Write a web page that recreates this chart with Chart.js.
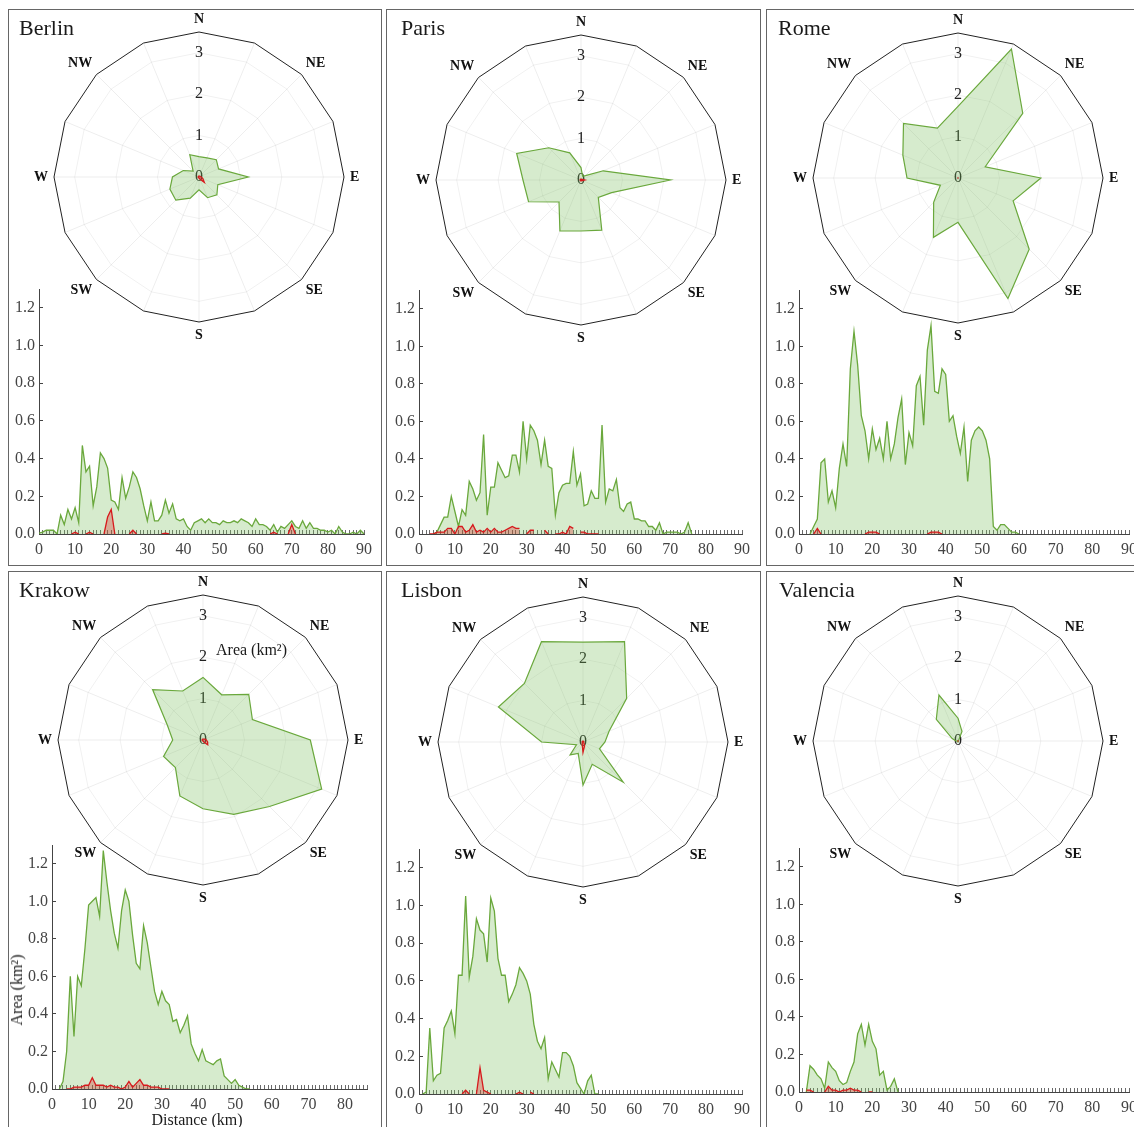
<!DOCTYPE html>
<html>
<head>
<meta charset="utf-8">
<script src="https://cdn.jsdelivr.net/npm/chart.js@4.4.1/dist/chart.umd.min.js"></script>
<style>
  body { margin: 0; width: 1134px; height: 1127px; overflow: hidden; background: #fff; position: relative;
         font-family: "Liberation Serif", "Times New Roman", serif; }
  .panel { position: absolute; border: 1px solid #666; box-sizing: border-box; }
  canvas { position: absolute; }
  .txt { position: absolute; color: #1a1a1a; white-space: nowrap; }
</style>
</head>
<body>
<script>
const cities = ['Berlin', 'Paris', 'Rome', 'Krakow', 'Lisbon', 'Valencia'];
const compass = ['N', '', 'NE', '', 'E', '', 'SE', '', 'S', '', 'SW', '', 'W', '', 'NW', ''];
const roseTicks = [0, 1, 2, 3, 3.5];
const areaTicks = [0, 0.2, 0.4, 0.6, 0.8, 1.0, 1.2];
const distanceTicks = [0, 10, 20, 30, 40, 50, 60, 70, 80, 90];

// area (km2) per direction, clockwise from N in 16 steps
const berlinRoseGreen   = [0.49, 0.5, 0.59, 0.51, 1.19, 0.49, 0.61, 0.54, 0.31, 0.55, 0.79, 0.76, 0.64, 0.41, 0.2, 0.58];
const berlinRoseRed     = [0.02, 0.02, 0.03, 0.03, 0.05, 0.1, 0.18, 0.05, 0.02, 0.02, 0.02, 0.02, 0.02, 0.02, 0.02, 0.02];
const parisRoseGreen    = [0.3, 0.1, 0.15, 0.58, 2.16, 0.8, 0.59, 1.31, 1.23, 1.33, 0.75, 1.37, 1.4, 1.68, 1.1, 0.71];
const parisRoseRed      = [0.02, 0.02, 0.02, 0.03, 0.08, 0.03, 0.02, 0.02, 0.02, 0.02, 0.02, 0.02, 0.02, 0.02, 0.02, 0.02];
const romeRoseGreen     = [1.73, 3.37, 2.21, 0.71, 2.0, 1.44, 2.43, 3.15, 1.07, 1.55, 0.83, 0.46, 1.23, 1.44, 1.86, 1.3];
const romeRoseRed       = [0, 0, 0, 0, 0, 0, 0, 0, 0, 0, 0, 0, 0, 0, 0, 0];
const krakowRoseGreen   = [1.51, 1.18, 1.56, 1.29, 2.59, 3.1, 2.27, 1.94, 1.66, 1.46, 0.94, 1.03, 0.73, 0.93, 1.72, 1.28];
const krakowRoseRed     = [0.02, 0.02, 0.03, 0.05, 0.08, 0.12, 0.16, 0.05, 0.02, 0.02, 0.02, 0.02, 0.02, 0.02, 0.02, 0.02];
const lisbonRoseGreen   = [2.41, 2.62, 1.49, 0.68, 0.53, 0.43, 1.37, 0.58, 1.04, 0.3, 0.44, 0.17, 1.0, 2.21, 2.0, 2.62];
const lisbonRoseRed     = [0.02, 0.02, 0.02, 0.02, 0.02, 0.02, 0.03, 0.1, 0.25, 0.05, 0.02, 0.02, 0.02, 0.02, 0.02, 0.02];
const valenciaRoseGreen = [0.55, 0.25, 0.02, 0.01, 0.01, 0.01, 0.01, 0.01, 0.02, 0.01, 0.01, 0.01, 0.05, 0.15, 0.74, 1.2];
const valenciaRoseRed   = [0, 0, 0, 0, 0, 0, 0, 0, 0, 0, 0, 0, 0, 0, 0, 0];

// area (km2) per 1 km distance band, index = km
const berlinGreen = [
  0.005, 0.01, 0.02, 0.02, 0.02, 0.0, 0.1, 0.05, 0.13, 0.08,
  0.14, 0.06, 0.47, 0.33, 0.36, 0.15, 0.25, 0.43, 0.4, 0.35,
  0.18, 0.17, 0.13, 0.3, 0.19, 0.25, 0.33, 0.3, 0.24, 0.15,
  0.07, 0.17, 0.07, 0.07, 0.1, 0.18, 0.11, 0.16, 0.08, 0.07,
  0.08, 0.04, 0.02, 0.06, 0.07, 0.08, 0.06, 0.08, 0.06, 0.06,
  0.05, 0.07, 0.06, 0.06, 0.07, 0.06, 0.08, 0.07, 0.06, 0.04,
  0.08, 0.05, 0.05, 0.04, 0.02, 0.05, 0.01, 0.04, 0.03, 0.05,
  0.07, 0.04, 0.03, 0.07, 0.03, 0.06, 0.03, 0.03, 0.02, 0.02,
  0.01, 0.02, 0.0, 0.04, 0.01, 0.0, 0.0, 0.01, 0.0, 0.02,
  0.0
];
const berlinRed = [
  null, null, null, null, null, null, null, null, null, 0,
  0.01, 0, null, 0, 0.01, 0, null, null, 0, 0.09,
  0.13, 0, null, null, null, 0, 0.02, 0, null, null,
  null, null, null, null, 0, 0.005, 0, null, null, null,
  null, null, null, null, null, null, null, null, null, null,
  null, null, null, null, null, null, null, null, null, null,
  null, null, null, null, 0, 0.01, 0, null, null, 0,
  0.05, 0
];
const parisGreen = [
  null, null, null, null, 0.0, 0.01, 0.05, 0.09, 0.09, 0.2,
  0.12, 0.04, 0.13, 0.1, 0.28, 0.24, 0.18, 0.22, 0.53, 0.1,
  0.25, 0.25, 0.38, 0.34, 0.3, 0.31, 0.42, 0.42, 0.33, 0.6,
  0.4, 0.58, 0.55, 0.5, 0.37, 0.5, 0.36, 0.35, 0.1, 0.22,
  0.26, 0.27, 0.27, 0.44, 0.26, 0.32, 0.15, 0.16, 0.23, 0.19,
  0.19, 0.58, 0.17, 0.24, 0.23, 0.29, 0.14, 0.12, 0.16, 0.17,
  0.08, 0.08, 0.07, 0.07, 0.04, 0.04, 0.02, 0.06, 0.0, 0.01,
  0.01, 0.01, 0.01, 0.0, 0.01, 0.06, 0.0
];
const parisRed = [
  null, null, null, 0, 0, 0.01, 0.01, 0.01, 0.03, 0.03,
  0, 0.04, 0.04, 0.01, 0.02, 0.05, 0.01, 0.02, 0.01, 0.03,
  0.01, 0.03, 0.01, 0.01, 0.02, 0.03, 0.04, 0.03, 0.03, null,
  0, 0.02, 0.02, null, null, 0.02, 0, null, 0, 0,
  0.01, 0, 0.04, 0.03, null, 0.01, 0.01, 0, 0, 0,
  0
];
const romeGreen = [
  null, null, null, 0.0, 0.04, 0.08, 0.38, 0.4, 0.17, 0.23,
  0.14, 0.35, 0.48, 0.36, 0.88, 1.08, 0.9, 0.63, 0.55, 0.4,
  0.56, 0.45, 0.51, 0.4, 0.6, 0.4, 0.48, 0.62, 0.72, 0.37,
  0.54, 0.47, 0.79, 0.84, 0.58, 0.98, 1.11, 0.76, 0.75, 0.88,
  0.85, 0.6, 0.63, 0.52, 0.43, 0.57, 0.28, 0.5, 0.55, 0.57,
  0.55, 0.5, 0.4, 0.04, 0.02, 0.05, 0.05, 0.03, 0.01, 0.01,
  0.0
];
const romeRed = [
  null, null, null, null, 0, 0.03, 0, null, null, null,
  null, null, null, null, null, null, null, null, 0, 0.01,
  0.01, 0.01, 0, null, null, null, null, null, null, null,
  null, null, null, null, null, 0, 0.01, 0.01, 0.01, 0
];
const krakowGreen = [
  null, null, 0.0, 0.04, 0.2, 0.6, 0.28, 0.6, 0.55, 0.75,
  0.98, 1.0, 1.02, 0.92, 1.27, 1.1, 0.95, 0.83, 0.75, 0.95,
  1.06, 1.0, 0.82, 0.67, 0.64, 0.87, 0.78, 0.65, 0.52, 0.45,
  0.52, 0.47, 0.45, 0.36, 0.37, 0.3, 0.34, 0.39, 0.24, 0.19,
  0.15, 0.21, 0.15, 0.14, 0.13, 0.15, 0.16, 0.07, 0.05, 0.03,
  0.05, 0.02, 0.01, 0.0, 0.0
];
const krakowRed = [
  null, null, null, null, 0, 0, 0.01, 0.01, 0.01, 0.02,
  0.02, 0.06, 0.02, 0.02, 0.02, 0.01, 0.02, 0.01, 0.01, 0,
  0.01, 0.04, 0.01, 0.03, 0.05, 0.02, 0.02, 0.01, 0.01, 0.01,
  0, 0, 0
];
const lisbonGreen = [
  null, 0.0, 0.01, 0.35, 0.07, 0.1, 0.11, 0.35, 0.39, 0.44,
  0.32, 0.63, 0.63, 1.05, 0.62, 0.73, 0.93, 0.87, 0.85, 0.7,
  1.04, 0.97, 0.72, 0.63, 0.63, 0.49, 0.53, 0.58, 0.67, 0.64,
  0.6, 0.53, 0.37, 0.28, 0.24, 0.3, 0.08, 0.17, 0.13, 0.09,
  0.22, 0.22, 0.2, 0.15, 0.06, 0.03, 0.0, 0.07, 0.1, 0.0,
  0.0
];
const lisbonRed = [
  null, null, null, null, null, null, null, null, null, null,
  null, null, 0, 0.02, 0, null, 0, 0.14, 0.02, 0.01,
  0, null, null, null, null, null, null, 0, 0.01, 0,
  null, 0.01, 0
];
const valenciaGreen = [
  null, null, 0.0, 0.14, 0.12, 0.09, 0.07, 0.02, 0.16, 0.13,
  0.11, 0.06, 0.04, 0.05, 0.11, 0.16, 0.31, 0.36, 0.25, 0.36,
  0.27, 0.23, 0.09, 0.11, 0.01, 0.03, 0.07, 0.0
];
const valenciaRed = [
  null, null, 0.01, 0.01, 0, null, null, 0, 0.03, 0.01,
  0.01, 0, 0.01, 0.01, 0.02, 0.01, 0.01, 0, null, 0,
  0
];

const roseGreen = {Berlin: berlinRoseGreen, Paris: parisRoseGreen, Rome: romeRoseGreen,
                   Krakow: krakowRoseGreen, Lisbon: lisbonRoseGreen, Valencia: valenciaRoseGreen};
const roseRed = {Berlin: berlinRoseRed, Paris: parisRoseRed, Rome: romeRoseRed,
                 Krakow: krakowRoseRed, Lisbon: lisbonRoseRed, Valencia: valenciaRoseRed};
const profileGreen = {Berlin: berlinGreen, Paris: parisGreen, Rome: romeGreen,
                      Krakow: krakowGreen, Lisbon: lisbonGreen, Valencia: valenciaGreen};
const profileRed = {Berlin: berlinRed, Paris: parisRed, Rome: romeRed,
                    Krakow: krakowRed, Lisbon: lisbonRed, Valencia: valenciaRed};

// page layout (pixels)
const layout = {
  Berlin:   {panel: [8, 9, 374, 557],     title: [19, 17],   line: [9, 10, 373, 555],    x0: 39,  xEnd: 372,  yTop: 289, yZero: 534,  xMax: 90, rose: [199, 177]},
  Paris:    {panel: [386, 9, 375, 557],   title: [401, 17],  line: [387, 10, 373, 555],  x0: 419, xEnd: 752,  yTop: 290, yZero: 534,  xMax: 90, rose: [581, 180]},
  Rome:     {panel: [766, 9, 400, 557],   title: [778, 17],  line: [767, 10, 380, 555],  x0: 799, xEnd: 1132, yTop: 290, yZero: 534,  xMax: 90, rose: [958, 178]},
  Krakow:   {panel: [8, 571, 374, 600],   title: [19, 579],  line: [9, 572, 373, 555],   x0: 52,  xEnd: 367,  yTop: 845, yZero: 1089, xMax: 86, rose: [203, 740]},
  Lisbon:   {panel: [386, 571, 375, 600], title: [401, 579], line: [387, 572, 373, 555], x0: 419, xEnd: 752,  yTop: 849, yZero: 1094, xMax: 90, rose: [583, 742]},
  Valencia: {panel: [766, 571, 400, 600], title: [779, 579], line: [767, 572, 380, 555], x0: 799, xEnd: 1132, yTop: 848, yZero: 1092, xMax: 90, rose: [958, 741]},
};

const GREEN = '#6aa83c';
const GREEN_FILL = 'rgba(120, 190, 90, 0.30)';
const RED = '#d7191c';
const RED_FILL = 'rgba(215, 25, 28, 0.30)';
const ROSE_RADIUS = 145;

Chart.defaults.font.family = '"Liberation Serif", "Times New Roman", serif';
Chart.defaults.color = '#333';

function addCanvas(left, top, width, height) {
  const el = document.createElement('canvas');
  el.width = width;
  el.height = height;
  el.style.left = left + 'px';
  el.style.top = top + 'px';
  el.style.width = width + 'px';
  el.style.height = height + 'px';
  document.body.appendChild(el);
  return el;
}

function addPanel(left, top, width, height) {
  const el = document.createElement('div');
  el.className = 'panel';
  el.style.left = left + 'px';
  el.style.top = top + 'px';
  el.style.width = width + 'px';
  el.style.height = height + 'px';
  document.body.appendChild(el);
}

function addText(text, left, top, size, extra) {
  const el = document.createElement('div');
  el.className = 'txt';
  el.textContent = text;
  el.style.left = left + 'px';
  el.style.top = top + 'px';
  el.style.fontSize = size + 'px';
  el.style.lineHeight = size + 'px';
  if (extra) Object.assign(el.style, extra);
  document.body.appendChild(el);
  return el;
}

function makeProfile(name) {
  const L = layout[name];
  const [left, top, width, height] = L.line;
  const canvas = addCanvas(left, top, width, height);
  const pts = arr => arr.map((v, i) => ({x: i, y: v}));
  new Chart(canvas, {
    type: 'line',
    data: {
      datasets: [
        {data: pts(profileRed[name]), borderColor: RED, backgroundColor: RED_FILL, fill: 'origin',
         borderWidth: 1.3, pointRadius: 0, tension: 0},
        {data: pts(profileGreen[name]), borderColor: GREEN, backgroundColor: GREEN_FILL, fill: 'origin',
         borderWidth: 1.3, pointRadius: 0, tension: 0}
      ]
    },
    options: {
      responsive: false, animation: false, events: [],
      layout: {padding: {top: L.yTop - top, right: left + width - L.xEnd, left: 0, bottom: 0}},
      plugins: {legend: {display: false}, tooltip: {enabled: false}},
      scales: {
        x: {
          type: 'linear', min: 0, max: L.xMax,
          afterBuildTicks: axis => {
            const t = [];
            for (let k = 0; k <= L.xMax; k++) t.push({value: k});
            axis.ticks = t;
          },
          afterFit: axis => { axis.height = top + height - L.yZero; },
          ticks: {autoSkip: false, maxRotation: 0, padding: 10, color: '#444', font: {size: 16},
                  callback: v => distanceTicks.includes(v) ? String(v) : ''},
          grid: {drawOnChartArea: false, tickLength: -4, color: '#444', lineWidth: 0.8},
          border: {color: '#444', width: 1}
        },
        y: {
          min: 0, max: 1.3,
          afterBuildTicks: axis => { axis.ticks = areaTicks.map(v => ({value: v})); },
          afterFit: axis => { axis.width = L.x0 - left; },
          ticks: {padding: 8, color: '#444', font: {size: 16}, callback: v => v.toFixed(1)},
          grid: {drawOnChartArea: false, tickLength: -4, color: '#444'},
          border: {color: '#444', width: 1}
        }
      }
    }
  });
}

function roseConfig(name) {
  return {
    type: 'radar',
    data: {
      labels: compass,
      datasets: [
        {data: roseRed[name], borderColor: RED, backgroundColor: RED_FILL, fill: true, borderWidth: 1.3, pointRadius: 0},
        {data: roseGreen[name], borderColor: GREEN, backgroundColor: GREEN_FILL, fill: true, borderWidth: 1.2, pointRadius: 0}
      ]
    },
    options: {
      responsive: false, animation: false, events: [],
      plugins: {legend: {display: false}, tooltip: {enabled: false}},
      elements: {line: {tension: 0}},
      scales: {
        r: {
          min: -0.001, max: 3.5,
          afterBuildTicks: axis => { axis.ticks = roseTicks.map(v => ({value: v})); },
          ticks: {showLabelBackdrop: false, color: '#222', font: {size: 16},
                  callback: v => v === 3.5 ? '' : String(v)},
          grid: {color: ctx => (ctx.tick && ctx.tick.value === 3.5) ? '#222' : 'rgba(0,0,0,0.06)', lineWidth: 1},
          angleLines: {color: 'rgba(0,0,0,0.07)'},
          // the scale already adds half the tick-label height around each point label
          pointLabels: {font: {size: 14, weight: 'bold', lineHeight: 1}, color: '#111', padding: -4}
        }
      }
    }
  };
}

function makeRose(name) {
  const [cx, cy] = layout[name].rose;
  let size = 340;
  for (let pass = 0; pass < 3; pass++) {
    const canvas = addCanvas(0, 0, size, size);
    const chart = new Chart(canvas, roseConfig(name));
    const r = chart.scales.r;
    canvas.style.left = (cx - r.xCenter) + 'px';
    canvas.style.top = (cy - r.yCenter) + 'px';
    const diff = ROSE_RADIUS - r.drawingArea;
    if (Math.abs(diff) < 0.6 || pass === 2) break;
    chart.destroy();
    canvas.remove();
    size += Math.round(diff * 2);
  }
}

cities.forEach(name => {
  const L = layout[name];
  addPanel(...L.panel);
  makeProfile(name);
  makeRose(name);
  addText(name, L.title[0], L.title[1], 22);
});

// axis titles shown in the Krakow panel
addText('Area (km²)', 216, 642, 16);
addText('Area (km²)', 17, 990, 16, {transform: 'translate(-50%, -50%) rotate(-90deg)'});
addText('Distance (km)', 197, 1120, 16, {transform: 'translate(-50%, -50%)'});
</script>
</body>
</html>
